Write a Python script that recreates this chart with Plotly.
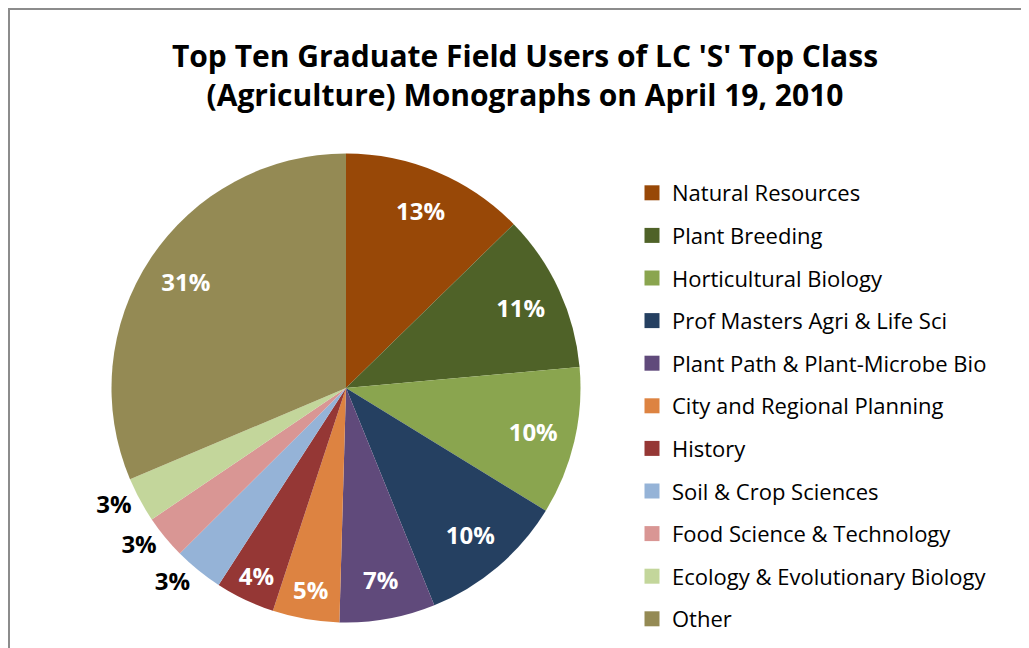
import plotly.graph_objects as go

# graduate field users of LC 'S' class (agriculture) monographs, share in %
fields = ["Natural Resources", "Plant Breeding", "Horticultural Biology",
          "Prof Masters Agri & Life Sci", "Plant Path & Plant-Microbe Bio",
          "City and Regional Planning", "History", "Soil & Crop Sciences",
          "Food Science & Technology", "Ecology & Evolutionary Biology", "Other"]
share = [12.7, 10.9, 10.2, 10.1, 6.6, 4.6, 4.1, 3.4, 3.0, 3.1, 31.4]
colors = ["#984807", "#4f6228", "#8aa54f", "#254061", "#604a7b", "#dd8341",
          "#953735", "#95b3d7", "#d99694", "#c3d69b", "#948a54"]
label_pos = ["inside"] * 7 + ["outside"] * 3 + ["inside"]

# page body has an 8px margin, so the figure is 8px smaller than the window
W, H = 1021, 640
FONT = "Open Sans"


def fx(px):
    return (px - 8) / W


def fy(py):
    return 1 - (py - 8) / H


cx, cy, r = 346, 388, 234.5
dom = dict(x=[fx(cx - r), fx(cx + r)], y=[fy(cy + r), fy(cy - r)])

fig = go.Figure()

# the slices
fig.add_trace(go.Pie(labels=fields, values=share, marker=dict(colors=colors),
                     sort=False, direction="clockwise", textinfo="none",
                     showlegend=False, domain=dom))

# transparent donut on top, only to push the % labels out towards the rim
fig.add_trace(go.Pie(labels=fields, values=share, hole=0.64,
                     marker=dict(colors=["rgba(0,0,0,0)"] * len(fields)),
                     sort=False, direction="clockwise",
                     texttemplate="%{percent:.0%}",
                     textposition=label_pos, insidetextorientation="horizontal",
                     insidetextfont=dict(family=FONT, size=24, weight="bold", color="white"),
                     outsidetextfont=dict(family=FONT, size=24, weight="bold", color="black"),
                     showlegend=False, hoverinfo="skip", domain=dom))

# legend entries (one group each so the gap can be set)
for name, c in zip(fields, colors):
    fig.add_trace(go.Scatter(x=[None], y=[None], mode="markers", name=name,
                             legendgroup=name,
                             marker=dict(symbol="square", size=15, color=c)))

fig.update_layout(
    width=W, height=H,
    margin=dict(l=0, r=0, t=0, b=0),
    paper_bgcolor="white", plot_bgcolor="white",
    title=dict(text="Top Ten Graduate Field Users of LC 'S' Top Class<br>(Agriculture) Monographs on April 19, 2010",
               x=fx(525), xanchor="center", y=fy(67), yanchor="top",
               font=dict(family=FONT, size=30, weight="bold", color="black")),
    legend=dict(x=fx(632), y=fy(172), xanchor="left", yanchor="top",
                font=dict(family=FONT, size=22, color="black"),
                tracegroupgap=11, bgcolor="rgba(0,0,0,0)"),
    xaxis=dict(visible=False), yaxis=dict(visible=False),
    uniformtext=dict(minsize=24, mode="show"),
    shapes=[dict(type="rect", xref="paper", yref="paper",
                 x0=fx(9), x1=1.05, y0=-0.05, y1=fy(9),
                 line=dict(color="#8c8c8c", width=2), layer="below")],
)

fig.write_html("out.html")
